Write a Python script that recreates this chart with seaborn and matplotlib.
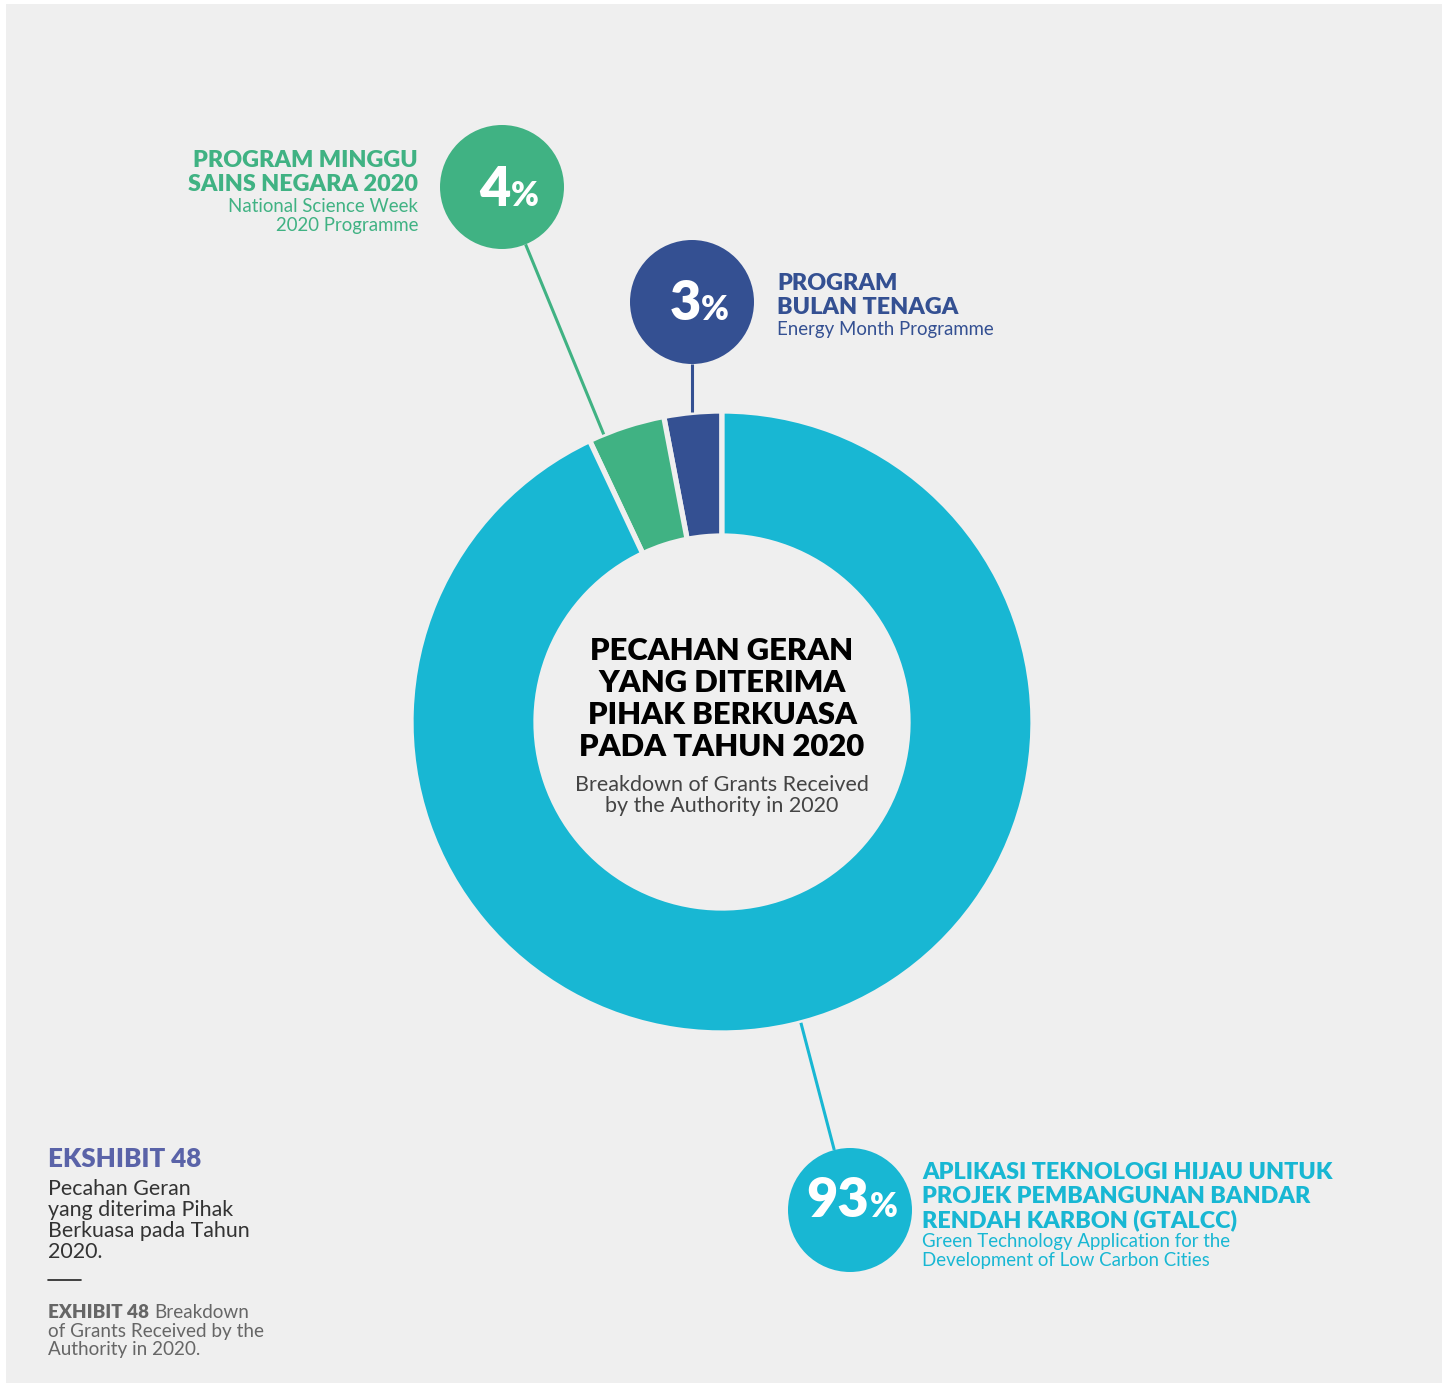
import matplotlib
matplotlib.use("Agg")
import matplotlib.pyplot as plt
from matplotlib.patches import Circle, Rectangle
import seaborn as sns
import numpy as np

# ---------------- data ----------------
categories = ["PROGRAM BULAN TENAGA", "PROGRAM MINGGU SAINS NEGARA 2020",
              "APLIKASI TEKNOLOGI HIJAU UNTUK PROJEK PEMBANGUNAN BANDAR RENDAH KARBON (GTALCC)"]
values = [3, 4, 93]
title_ms = ["PECAHAN GERAN", "YANG DITERIMA", "PIHAK BERKUASA", "PADA TAHUN 2020"]
title_en = ["Breakdown of Grants Received", "by the Authority in 2020"]
label_ms = [["PROGRAM", "BULAN TENAGA"],
            ["PROGRAM MINGGU", "SAINS NEGARA 2020"],
            ["APLIKASI TEKNOLOGI HIJAU UNTUK", "PROJEK PEMBANGUNAN BANDAR", "RENDAH KARBON (GTALCC)"]]
label_en = [["Energy Month Programme"],
            ["National Science Week", "2020 Programme"],
            ["Green Technology Application for the", "Development of Low Carbon Cities"]]

sns.set_theme(style="white")
plt.rcParams['font.family'] = ['Lato', 'DejaVu Sans']

colors = ["#345092", "#40b283", "#18b7d3"]
BG = "#efefef"
W, H = 1442, 1383
def Y(y):
    return H - y

fig = plt.figure(figsize=(W / 100, H / 100), dpi=100)
fig.patch.set_facecolor("white")
ax = fig.add_axes([0, 0, 1, 1])
ax.add_patch(Rectangle((6, 0), W - 6, H - 4, facecolor=BG, edgecolor='none', zorder=0))

CX, CY, R, RW = 722, 722, 311, 125
ax.pie(values, colors=colors, startangle=90, counterclock=True, radius=R,
       center=(CX, Y(CY)), wedgeprops=dict(width=RW, edgecolor=BG, linewidth=3.8),
       frame=False)
ax.set_xlim(0, W)
ax.set_ylim(0, H)
ax.set_aspect('equal')
ax.axis('off')

# callouts (layout positions)
callouts = [dict(cx=692, cy=302, tc=699, base=320, vertical=True),
            dict(cx=502, cy=187, tc=509, base=206, vertical=False),
            dict(cx=850, cy=1210, tc=852, base=1217, vertical=False)]
CR = 62
fig.canvas.draw()
renderer = fig.canvas.get_renderer()

def width_px(t):
    bb = t.get_window_extent(renderer=renderer)
    return bb.width

for v, col, c in zip(values, colors, callouts):
    cx, cy = c['cx'], c['cy']
    if c['vertical']:
        x0, y0 = cx, cy + CR
        x1 = cx
        y1 = CY - np.sqrt(R ** 2 - (cx - CX) ** 2)
    else:
        d = np.array([CX - cx, CY - cy], float)
        d /= np.linalg.norm(d)
        x0, y0 = cx + d[0] * CR, cy + d[1] * CR
        p = np.array([cx, cy], float)
        cvec = p - np.array([CX, CY])
        b = 2 * np.dot(d, cvec)
        cc = np.dot(cvec, cvec) - R ** 2
        t = (-b - np.sqrt(b * b - 4 * cc)) / 2
        x1, y1 = p + t * d
    ax.plot([x0, x1], [Y(y0), Y(y1)], color=col, lw=2.2, zorder=1, solid_capstyle='butt')
    ax.add_patch(Circle((cx, Y(cy)), CR, facecolor=col, edgecolor='none', zorder=3))
    t1 = ax.text(0, Y(c['base']), str(v), fontsize=39, fontweight='heavy', color='white',
                 ha='left', va='baseline', zorder=4)
    t2 = ax.text(0, Y(c['base']), "%", fontsize=24, fontweight='heavy', color='white',
                 ha='left', va='baseline', zorder=4)
    w1, w2 = width_px(t1), width_px(t2)
    start = c['tc'] - (w1 + w2) / 2
    t1.set_x(start)
    t2.set_x(start + w1)

# labels
BOLD = dict(fontsize=16.8, fontweight='heavy', va='baseline')
REG = dict(fontsize=13.4, va='baseline')
# navy (left aligned)
for i, s in enumerate(label_ms[0]):
    ax.text(777, Y(290 + 24 * i), s, color=colors[0], ha='left', **BOLD)
ax.text(777, Y(335), label_en[0][0], color=colors[0], ha='left', **REG)
# green (right aligned)
for i, s in enumerate(label_ms[1]):
    ax.text(418, Y(167 + 24 * i), s, color=colors[1], ha='right', **BOLD)
for i, s in enumerate(label_en[1]):
    ax.text(418, Y(212 + 18.5 * i), s, color=colors[1], ha='right', **REG)
# cyan (left aligned)
for i, s in enumerate(label_ms[2]):
    ax.text(922, Y(1179 + 24 * i), s, color=colors[2], ha='left', **BOLD)
for i, s in enumerate(label_en[2]):
    ax.text(922, Y(1247 + 19 * i), s, color=colors[2], ha='left', **REG)

# centre title
for i, s in enumerate(title_ms):
    ax.text(CX, Y(660 + 32 * i), s, color='black', ha='center', va='baseline',
            fontsize=22.3, fontweight='heavy')
for i, s in enumerate(title_en):
    ax.text(CX, Y(791 + 21 * i), s, color='#444444', ha='center', va='baseline',
            fontsize=15.5)

# bottom-left exhibit note
ax.text(48, Y(1167), "EKSHIBIT 48", color="#5a63a8", fontsize=18.7, fontweight='heavy',
        ha='left', va='baseline')
for i, s in enumerate(["Pecahan Geran", "yang diterima Pihak", "Berkuasa pada Tahun", "2020."]):
    ax.text(48, Y(1195 + 21 * i), s, color="#333333", fontsize=15.4, ha='left', va='baseline')
ax.plot([48, 81], [Y(1280), Y(1280)], color='#222222', lw=1.2)
tb = ax.text(48, Y(1318), "EXHIBIT 48", color="#666666", fontsize=13.6, fontweight='heavy',
             ha='left', va='baseline')
wb = width_px(tb)
ax.text(48 + wb + 5, Y(1318), "Breakdown", color="#666666", fontsize=13.6, ha='left', va='baseline')
for i, s in enumerate(["of Grants Received by the", "Authority in 2020."]):
    ax.text(48, Y(1337 + 18.5 * i), s, color="#666666", fontsize=13.6, ha='left', va='baseline')

fig.savefig("out.png", dpi=100, facecolor=fig.get_facecolor())
